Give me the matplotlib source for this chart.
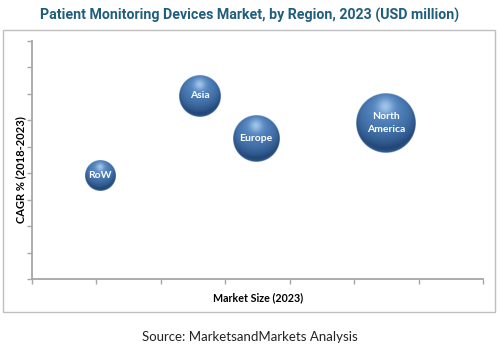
import numpy as np
import matplotlib.pyplot as plt
from matplotlib.patches import Rectangle

regions = ['RoW', 'Asia', 'Europe', 'North\nAmerica']
market_size = [1.06, 2.61, 3.48, 5.5]
cagr = [3.9, 6.93, 5.3, 5.9]
bubble_size = [240, 440, 550, 900]

W, H = 502, 349


def sphere(n=256):
    # shaded ball with a soft top highlight and a light rim at the bottom
    yy, xx = np.mgrid[0:n, 0:n]
    c = (n - 1) / 2
    u = (xx - c) / c
    v = (c - yy) / c
    r2 = u ** 2 + v ** 2
    z = np.sqrt(np.clip(1 - r2, 0, 1))
    L = np.array([-0.05, 0.55, 0.83])
    L = L / np.linalg.norm(L)
    lam = np.clip(u * L[0] + v * L[1] + z * L[2], 0, 1)
    dark = np.array([0.12, 0.26, 0.45])
    mid = np.array([0.33, 0.53, 0.76])
    light = np.array([0.68, 0.81, 0.94])
    img = dark + (mid - dark) * lam[..., None] ** 0.85
    spec = np.exp(-((u + 0.02) ** 2 + (v - 0.55) ** 2) / 0.07)
    img = img + (light - img) * spec[..., None] * 0.85
    rim = np.clip(r2, 0, 1) ** 6 * np.clip(-v, 0, 1) * 0.55
    img = img + (mid - img) * rim[..., None]
    alpha = np.clip((1 - np.sqrt(r2)) * c * 0.6, 0, 1)
    return np.dstack([np.clip(img, 0, 1), alpha])


fig = plt.figure(figsize=(W / 100, H / 100), dpi=100)
ax = fig.add_axes([32 / W, 1 - 279 / H, (483 - 32) / W, (279 - 41) / H])
ax.set_xlim(0, 7)
ax.set_ylim(0, 9)

bb = ax.get_window_extent()
px_x = bb.width / 7
px_y = bb.height / 9

ball = sphere()
for name, x, y, s in zip(regions, market_size, cagr, bubble_size):
    r = np.sqrt(s)
    ax.imshow(ball, extent=[x - r / px_x, x + r / px_x, y - r / px_y, y + r / px_y],
              aspect='auto', zorder=3, interpolation='bilinear')
    ax.text(x, y, name, ha='center', va='center', color='white', fontsize=7.5,
            fontweight='bold', family='Lato', zorder=4, linespacing=1.5)

ax.set_xlim(0, 7)
ax.set_ylim(0, 9)
ax.set_xticks(range(8))
ax.set_yticks(range(10))
ax.tick_params(length=3.5, width=1, color='#a6a6a6', labelbottom=False, labelleft=False)
for side in ['top', 'right']:
    ax.spines[side].set_visible(False)
for side in ['left', 'bottom']:
    ax.spines[side].set_color('#a6a6a6')
    ax.spines[side].set_linewidth(1.3)

fig.text(20.7 / W, 1 - 170 / H, 'CAGR % (2018-2023)', rotation=90, ha='center', va='center',
         fontsize=8, fontweight='bold', family='Lato')
fig.text(258 / W, 1 - 298 / H, 'Market Size (2023)', ha='center', va='center',
         fontsize=7.7, fontweight='bold', family='Lato')
fig.text(249.5 / W, 1 - 15 / H, 'Patient Monitoring Devices Market, by Region, 2023 (USD million)',
         ha='center', va='center', fontsize=10.2, fontweight='bold',
         family='Roboto', color='#215e7c')
fig.text(250 / W, 1 - 337 / H, 'Source: MarketsandMarkets Analysis', ha='center', va='center',
         fontsize=9.5, family='Lato', color='#222222')

fig.patches.append(Rectangle((3 / W, 1 - 311.5 / H), 492 / W, 282 / H, transform=fig.transFigure,
                             fill=False, ec='#bfbfbf', lw=1))

fig.savefig('out.png', dpi=100)
